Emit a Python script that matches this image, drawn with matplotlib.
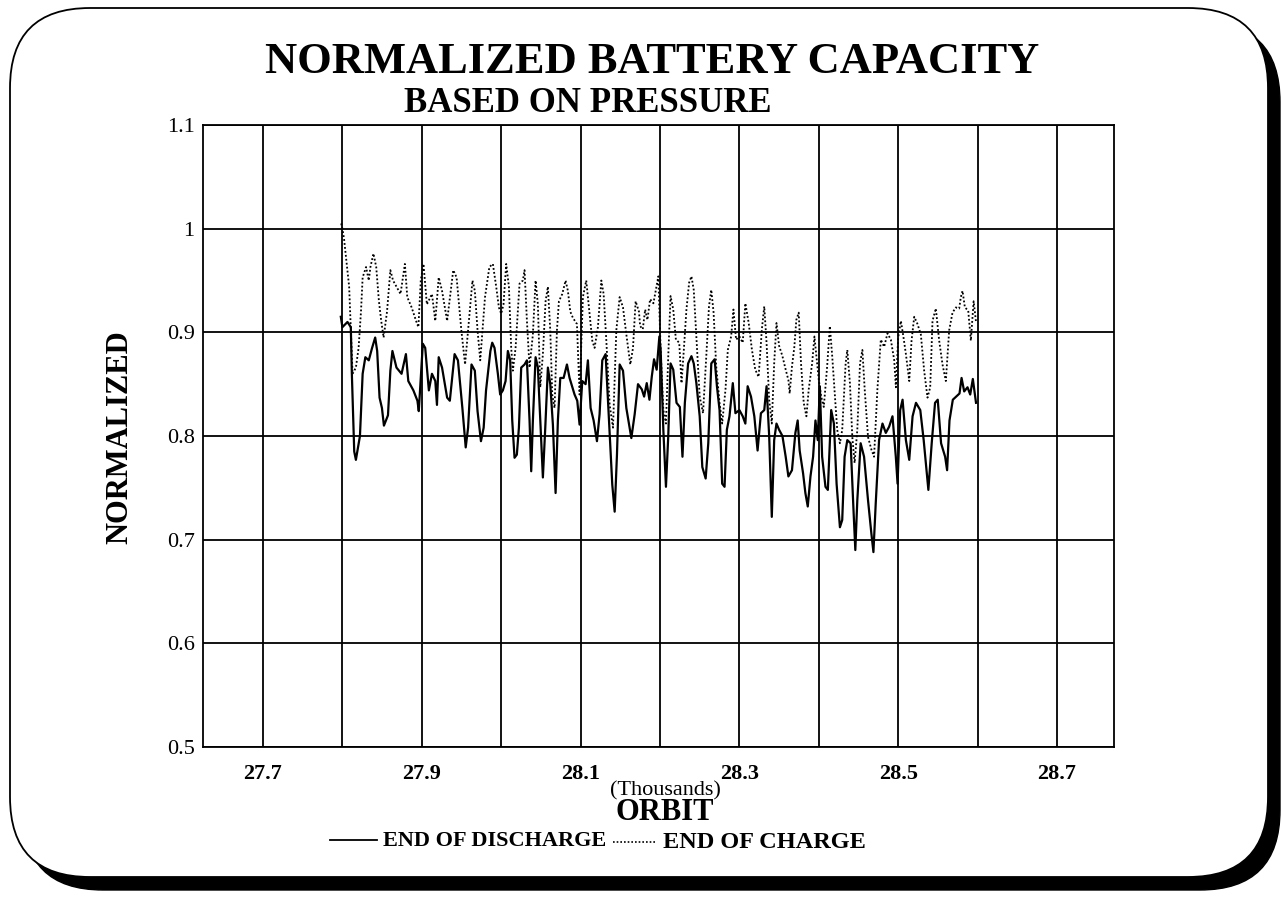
import matplotlib.pyplot as plt
import numpy as np
from matplotlib.patches import FancyBboxPatch

# -----------------------------
# Data (orbit in thousands)
# -----------------------------
discharge_orbit = [
    27.798, 27.800, 27.8064, 27.8106, 27.8119, 27.8149, 27.8170, 27.8221, 27.8255, 27.8289,
    27.8332, 27.8374, 27.8413, 27.8438, 27.8468, 27.8498, 27.8523, 27.8574, 27.8604, 27.8630,
    27.8681, 27.8745, 27.8800, 27.8830, 27.8894, 27.8945, 27.8962, 27.9013, 27.9043, 27.9089,
    27.9128, 27.9170, 27.9191, 27.9213, 27.9255, 27.9319, 27.9353, 27.9413, 27.9455, 27.9511,
    27.9553, 27.9583, 27.9626, 27.9668, 27.9702, 27.9745, 27.9779, 27.9809, 27.9864, 27.9887,
    27.9916, 27.9958, 27.9987, 28.0021, 28.0055, 28.0084, 28.0113, 28.0139, 28.0168, 28.0197,
    28.0223, 28.0252, 28.0294, 28.0324, 28.0357, 28.0378, 28.0399, 28.0433, 28.0462, 28.0496,
    28.0525, 28.0555, 28.0588, 28.0618, 28.0651, 28.0685, 28.0714, 28.0744, 28.0786, 28.0828,
    28.0861, 28.0924, 28.0958, 28.0987, 28.1021, 28.1063, 28.1092, 28.1126, 28.1164, 28.1206,
    28.1239, 28.1273, 28.1315, 28.1357, 28.1399, 28.1429, 28.1458, 28.1492, 28.1534, 28.1576,
    28.1639, 28.1681, 28.1723, 28.1771, 28.1800, 28.1833, 28.1867, 28.1896, 28.1925, 28.1958,
    28.1992, 28.2008, 28.2042, 28.2075, 28.2104, 28.2133, 28.2167, 28.2208, 28.2250, 28.2283,
    28.2313, 28.2354, 28.2396, 28.2425, 28.2458, 28.2500, 28.2533, 28.2575, 28.2608, 28.2646,
    28.2688, 28.2717, 28.2750, 28.2783, 28.2813, 28.2842, 28.2875, 28.2917, 28.2950, 28.3000,
    28.3042, 28.3075, 28.3104, 28.3146, 28.3188, 28.3229, 28.3271, 28.3313, 28.3342, 28.3375,
    28.3408, 28.3438, 28.3467, 28.3500, 28.3542, 28.3583, 28.3617, 28.3662, 28.3705, 28.3734,
    28.3759, 28.3802, 28.3831, 28.3861, 28.3895, 28.3928, 28.3958, 28.3987, 28.4013, 28.4042,
    28.4084, 28.4114, 28.4156, 28.4190, 28.4224, 28.4266, 28.4295, 28.4325, 28.4359, 28.4401,
    28.4435, 28.4460, 28.4485, 28.4527, 28.4570, 28.4620, 28.4662, 28.4688, 28.4717, 28.4759,
    28.4802, 28.4844, 28.4886, 28.4928, 28.4970, 28.4992, 28.5025, 28.5055, 28.5097, 28.5139,
    28.5181, 28.5224, 28.5278, 28.5321, 28.5380, 28.5422, 28.5464, 28.5498, 28.5540, 28.5591,
    28.5616, 28.5646, 28.5688, 28.5730, 28.5772, 28.5798, 28.5831, 28.5873, 28.5907, 28.5940,
    28.5980,
]
discharge_value = [
    0.915, 0.905, 0.910, 0.905, 0.860, 0.785, 0.777, 0.800, 0.860, 0.876,
    0.873, 0.885, 0.895, 0.882, 0.837, 0.827, 0.810, 0.820, 0.863, 0.882,
    0.866, 0.860, 0.879, 0.853, 0.844, 0.834, 0.824, 0.889, 0.885, 0.844,
    0.860, 0.853, 0.830, 0.876, 0.866, 0.837, 0.834, 0.879, 0.873, 0.827,
    0.789, 0.808, 0.869, 0.863, 0.824, 0.795, 0.808, 0.844, 0.882, 0.890,
    0.885, 0.860, 0.840, 0.844, 0.853, 0.882, 0.873, 0.815, 0.779, 0.782,
    0.808, 0.866, 0.869, 0.873, 0.815, 0.766, 0.815, 0.876, 0.866, 0.808,
    0.760, 0.808, 0.866, 0.850, 0.811, 0.745, 0.815, 0.856, 0.856, 0.869,
    0.856, 0.840, 0.834, 0.811, 0.853, 0.850, 0.873, 0.827, 0.815, 0.795,
    0.821, 0.873, 0.879, 0.815, 0.753, 0.727, 0.782, 0.869, 0.863, 0.827,
    0.798, 0.821, 0.850, 0.845, 0.838, 0.851, 0.835, 0.857, 0.874, 0.864,
    0.896, 0.883, 0.806, 0.751, 0.800, 0.870, 0.864, 0.832, 0.828, 0.780,
    0.832, 0.870, 0.877, 0.870, 0.851, 0.819, 0.770, 0.759, 0.793, 0.870,
    0.874, 0.848, 0.825, 0.754, 0.751, 0.806, 0.819, 0.851, 0.822, 0.825,
    0.819, 0.812, 0.848, 0.838, 0.819, 0.786, 0.822, 0.825, 0.848, 0.800,
    0.722, 0.796, 0.812, 0.806, 0.800, 0.780, 0.761, 0.767, 0.803, 0.815,
    0.786, 0.764, 0.745, 0.732, 0.761, 0.780, 0.815, 0.796, 0.848, 0.780,
    0.751, 0.748, 0.825, 0.812, 0.754, 0.712, 0.719, 0.780, 0.796, 0.793,
    0.732, 0.690, 0.738, 0.793, 0.780, 0.738, 0.706, 0.688, 0.735, 0.796,
    0.812, 0.803, 0.809, 0.819, 0.780, 0.754, 0.825, 0.835, 0.796, 0.777,
    0.819, 0.832, 0.825, 0.796, 0.748, 0.793, 0.832, 0.835, 0.793, 0.780,
    0.767, 0.815, 0.835, 0.838, 0.841, 0.856, 0.843, 0.847, 0.840, 0.855,
    0.832,
]

charge_orbit = [
    27.7985, 27.8000, 27.8021, 27.8085, 27.8128, 27.8170, 27.8204, 27.8234, 27.8255, 27.8298,
    27.8332, 27.8353, 27.8391, 27.8426, 27.8460, 27.8489, 27.8519, 27.8562, 27.8604, 27.8638,
    27.8681, 27.8732, 27.8787, 27.8817, 27.8872, 27.8928, 27.8957, 27.8987, 27.9021, 27.9064,
    27.9128, 27.9170, 27.9213, 27.9255, 27.9319, 27.9396, 27.9438, 27.9498, 27.9545, 27.9583,
    27.9638, 27.9668, 27.9702, 27.9736, 27.9796, 27.9851, 27.9895, 27.9937, 27.9971, 28.0000,
    28.0029, 28.0063, 28.0097, 28.0126, 28.0147, 28.0181, 28.0231, 28.0273, 28.0294, 28.0324,
    28.0357, 28.0399, 28.0433, 28.0462, 28.0492, 28.0525, 28.0559, 28.0588, 28.0618, 28.0643,
    28.0672, 28.0702, 28.0727, 28.0769, 28.0811, 28.0840, 28.0870, 28.0903, 28.0954, 28.0987,
    28.1029, 28.1071, 28.1105, 28.1147, 28.1176, 28.1218, 28.1261, 28.1290, 28.1324, 28.1366,
    28.1408, 28.1450, 28.1492, 28.1534, 28.1576, 28.1626, 28.1660, 28.1693, 28.1735, 28.1750,
    28.1783, 28.1813, 28.1842, 28.1875, 28.1917, 28.1958, 28.1979, 28.2008, 28.2042, 28.2075,
    28.2104, 28.2133, 28.2167, 28.2200, 28.2242, 28.2271, 28.2300, 28.2333, 28.2367, 28.2396,
    28.2425, 28.2458, 28.2500, 28.2542, 28.2583, 28.2617, 28.2646, 28.2675, 28.2708, 28.2750,
    28.2783, 28.2825, 28.2854, 28.2896, 28.2925, 28.2958, 28.3000, 28.3042, 28.3075, 28.3117,
    28.3158, 28.3200, 28.3242, 28.3283, 28.3313, 28.3342, 28.3375, 28.3408, 28.3438, 28.3467,
    28.3500, 28.3542, 28.3583, 28.3617, 28.3633, 28.3662, 28.3692, 28.3717, 28.3747, 28.3776,
    28.3810, 28.3844, 28.3873, 28.3916, 28.3945, 28.3970, 28.4000, 28.4030, 28.4063, 28.4105,
    28.4139, 28.4169, 28.4198, 28.4232, 28.4266, 28.4295, 28.4338, 28.4359, 28.4392, 28.4422,
    28.4451, 28.4485, 28.4519, 28.4549, 28.4578, 28.4620, 28.4662, 28.4696, 28.4738, 28.4781,
    28.4823, 28.4865, 28.4907, 28.4950, 28.4971, 28.5000, 28.5034, 28.5067, 28.5097, 28.5139,
    28.5168, 28.5202, 28.5243, 28.5285, 28.5327, 28.5369, 28.5403, 28.5432, 28.5474, 28.5516,
    28.5558, 28.5600, 28.5642, 28.5684, 28.5726, 28.5768, 28.5789, 28.5810, 28.5840, 28.5882,
    28.5915, 28.5950, 28.5980,
]
charge_value = [
    1.005, 1.000, 0.990, 0.944, 0.860, 0.866, 0.885, 0.920, 0.953, 0.963,
    0.950, 0.963, 0.976, 0.963, 0.930, 0.911, 0.895, 0.920, 0.960, 0.950,
    0.944, 0.937, 0.966, 0.934, 0.924, 0.911, 0.905, 0.950, 0.966, 0.927,
    0.937, 0.911, 0.953, 0.940, 0.911, 0.960, 0.953, 0.902, 0.869, 0.902,
    0.950, 0.940, 0.902, 0.873, 0.934, 0.963, 0.966, 0.944, 0.924, 0.918,
    0.927, 0.966, 0.944, 0.885, 0.863, 0.885, 0.947, 0.950, 0.960, 0.911,
    0.866, 0.898, 0.950, 0.927, 0.847, 0.879, 0.930, 0.944, 0.902, 0.840,
    0.827, 0.902, 0.930, 0.937, 0.950, 0.940, 0.920, 0.914, 0.908, 0.840,
    0.934, 0.950, 0.924, 0.892, 0.885, 0.905, 0.950, 0.937, 0.892, 0.830,
    0.808, 0.902, 0.934, 0.924, 0.898, 0.869, 0.885, 0.930, 0.920, 0.906,
    0.903, 0.922, 0.912, 0.932, 0.928, 0.945, 0.954, 0.883, 0.825, 0.812,
    0.877, 0.935, 0.922, 0.893, 0.890, 0.851, 0.883, 0.922, 0.948, 0.954,
    0.941, 0.896, 0.838, 0.822, 0.877, 0.925, 0.941, 0.919, 0.867, 0.832,
    0.812, 0.845, 0.883, 0.896, 0.922, 0.893, 0.896, 0.890, 0.928, 0.909,
    0.883, 0.864, 0.857, 0.903, 0.925, 0.890, 0.835, 0.812, 0.870, 0.909,
    0.887, 0.877, 0.864, 0.854, 0.841, 0.867, 0.886, 0.912, 0.919, 0.870,
    0.832, 0.819, 0.845, 0.870, 0.896, 0.877, 0.854, 0.838, 0.828, 0.867,
    0.906, 0.877, 0.845, 0.806, 0.793, 0.806, 0.870, 0.883, 0.851, 0.799,
    0.774, 0.806, 0.870, 0.883, 0.845, 0.799, 0.787, 0.780, 0.845, 0.893,
    0.886, 0.899, 0.893, 0.873, 0.847, 0.895, 0.911, 0.895, 0.879, 0.853,
    0.892, 0.915, 0.908, 0.898, 0.863, 0.837, 0.847, 0.911, 0.923, 0.892,
    0.869, 0.853, 0.902, 0.919, 0.924, 0.923, 0.934, 0.940, 0.924, 0.921,
    0.892, 0.930, 0.910,
]

x_grid = [27.7, 27.8, 27.9, 28.0, 28.1, 28.2, 28.3, 28.4, 28.5, 28.6, 28.7]
x_labels = ["27.7", "", "27.9", "", "28.1", "", "28.3", "", "28.5", "", "28.7"]
y_ticks = [0.5, 0.6, 0.7, 0.8, 0.9, 1.0, 1.1]
y_labels = ["0.5", "0.6", "0.7", "0.8", "0.9", "1", "1.1"]

SERIF = ["Liberation Serif", "DejaVu Serif"]
W, H = 1281, 901


def main():
    plt.rcParams['font.family'] = SERIF
    fig = plt.figure(figsize=(W / 100, H / 100), dpi=100)

    # background in pixel coordinates for the frame and texts
    bg = fig.add_axes([0, 0, 1, 1], zorder=0)
    bg.set_xlim(0, W)
    bg.set_ylim(0, H)
    bg.axis('off')

    shadow = FancyBboxPatch((23, 11), 1257, 868,
                            boxstyle="round,pad=0,rounding_size=80",
                            fc='black', ec='black', lw=1)
    frame = FancyBboxPatch((10, 24), 1258, 869,
                           boxstyle="round,pad=0,rounding_size=80",
                           fc='white', ec='black', lw=1.3)
    bg.add_patch(shadow)
    bg.add_patch(frame)

    bg.text(652, H - 62, "NORMALIZED BATTERY CAPACITY", ha='center', va='center',
            fontsize=32, fontweight='bold')
    bg.text(588, H - 103, "BASED ON PRESSURE", ha='center', va='center',
            fontsize=25, fontweight='bold')
    bg.text(120, H - 437, "NORMALIZED", ha='center', va='center', rotation=90,
            fontsize=22, fontweight='bold')
    bg.text(665, H - 791, "(Thousands)", ha='center', va='center', fontsize=16)
    bg.text(665, H - 813, "ORBIT", ha='center', va='center',
            fontsize=22, fontweight='bold')

    # legend drawn by hand like the original
    bg.plot([330, 377], [H - 840, H - 840], color='black', lw=1.3)
    bg.text(383, H - 841, "END OF DISCHARGE", ha='left', va='center',
            fontsize=16, fontweight='bold')
    bg.plot([613, 657], [H - 842, H - 842], color='black', lw=1.2,
            linestyle=(0, (1, 1.2)))
    bg.text(663, H - 843, "END OF CHARGE", ha='left', va='center',
            fontsize=17.5, fontweight='bold')

    ax = fig.add_axes([203 / W, (H - 747) / H, (1114 - 203) / W, (747 - 125) / H], zorder=1)
    ax.patch.set_alpha(0)

    ax.plot(discharge_orbit, discharge_value, color='black', lw=1.6)
    ax.plot(charge_orbit, charge_value, color='black', lw=1.3,
            linestyle=(0, (1, 1.2)))

    ax.set_xlim(27.7 - 60 / 794, 28.7 + 57 / 794)
    ax.set_ylim(0.5, 1.1)
    ax.set_xticks(x_grid)
    ax.set_xticklabels(x_labels, fontweight='bold', fontsize=16)
    ax.set_yticks(y_ticks)
    ax.set_yticklabels(y_labels, fontsize=16)
    ax.tick_params(axis='x', length=0, pad=12)
    ax.tick_params(axis='y', length=0, pad=6)
    ax.grid(True, color='black', lw=1.3)
    for s in ax.spines.values():
        s.set_linewidth(1.3)

    fig.savefig("out.png", dpi=100)


if __name__ == "__main__":
    main()
